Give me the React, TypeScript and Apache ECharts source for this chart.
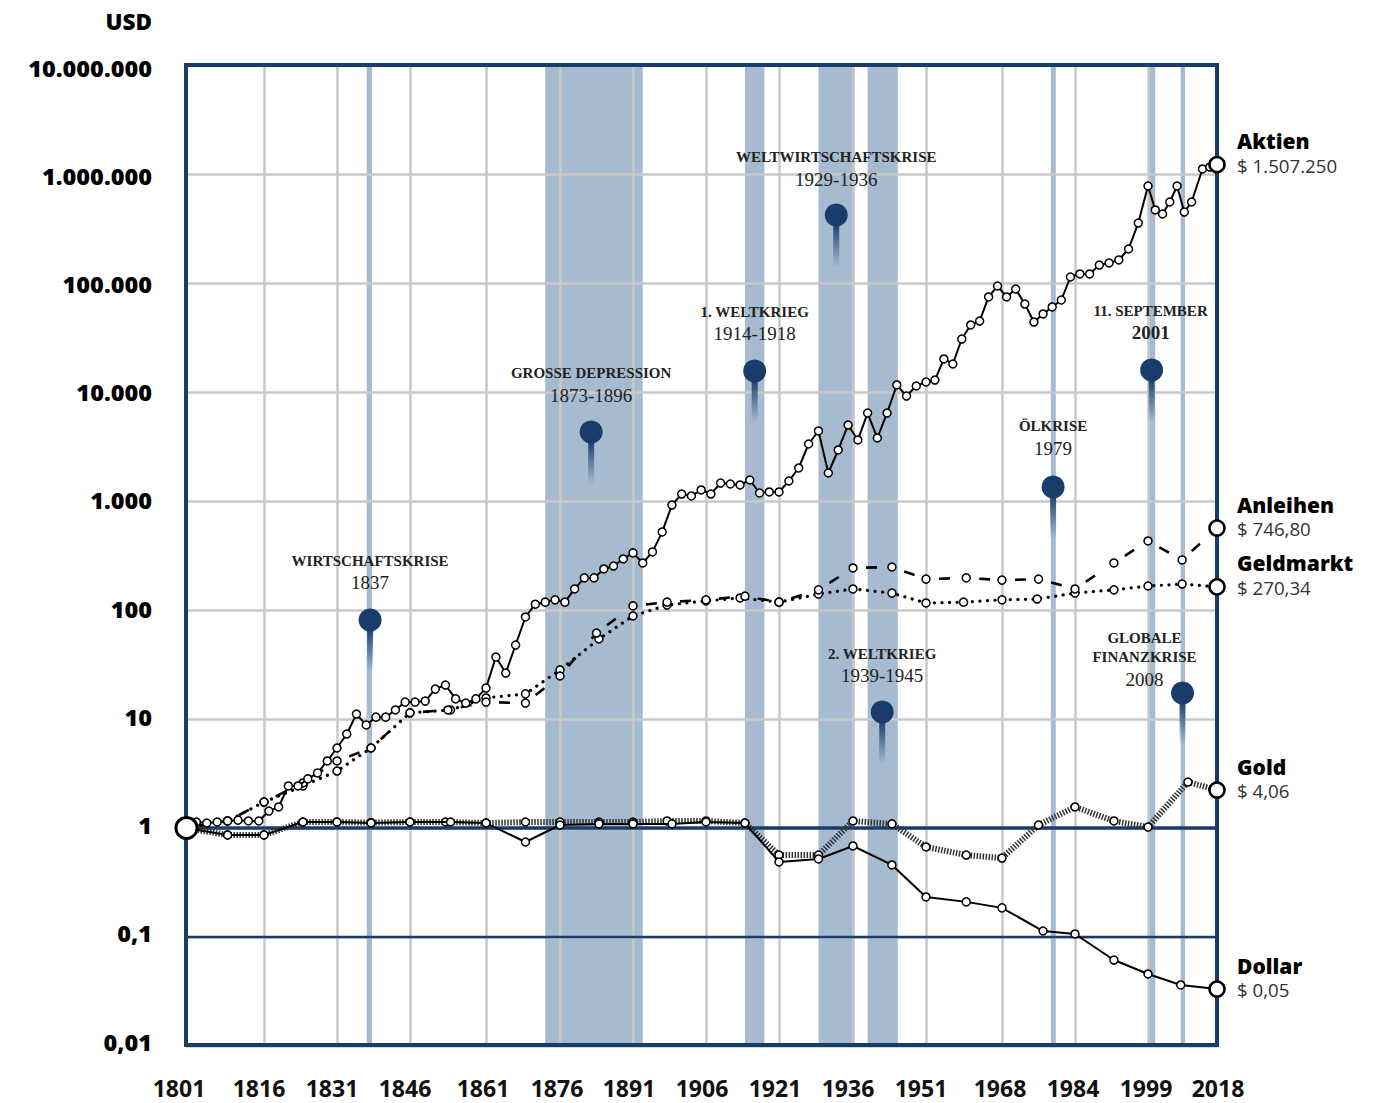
import React, { useEffect, useRef } from "react";
import * as echarts from "echarts";

// Non-uniform time scale of the chart: year -> distance along the axis
const SCALE_YEARS = [1801, 1816, 1831, 1846, 1861, 1876, 1891, 1906, 1921, 1936, 1951, 1968, 1984, 1999, 2018];
const SCALE_DIST = [0, 78, 151, 224, 300, 374, 447, 520, 593, 667, 740, 816, 889, 962, 1031];
const TICK_LABELS = ["1801", "1816", "1831", "1846", "1861", "1876", "1891", "1906", "1921", "1936", "1951", "1968", "1984", "1999", "2018"];
const TICK_LABEL_DIST = [-7, 73, 146, 219, 297, 371, 443, 516, 589, 662, 735, 814, 887, 960, 1032];

const STOCK_YEARS = [1801, 1803, 1805, 1807, 1809, 1811, 1813, 1815, 1817, 1819, 1821, 1823, 1825, 1827, 1829, 1831, 1833, 1835, 1837, 1839, 1841, 1843, 1845, 1847, 1849, 1851, 1853, 1855, 1857, 1859, 1861, 1863, 1865, 1867, 1869, 1871, 1873, 1875, 1877, 1879, 1881, 1883, 1885, 1887, 1889, 1891, 1893, 1895, 1897, 1899, 1901, 1903, 1905, 1907, 1909, 1911, 1913, 1915, 1917, 1919, 1921, 1923, 1925, 1927, 1929, 1931, 1933, 1935, 1937, 1939, 1941, 1943, 1945, 1947, 1949, 1951, 1953, 1955, 1957, 1959, 1961, 1963, 1965, 1967, 1969, 1971, 1973, 1975, 1977, 1979, 1981, 1983, 1985, 1987, 1989, 1991, 1993, 1995, 1997, 1999, 2001, 2003, 2005, 2007, 2009, 2011, 2014, 2016, 2018];
const STOCK_VALUES = [1, 1.135, 1.11, 1.135, 1.16, 1.18, 1.16, 1.16, 1.43, 1.56, 2.43, 2.43, 2.82, 3.2, 4.12, 5.42, 7.28, 11.1, 8.81, 10.4, 10.4, 12.1, 14.3, 14.3, 14.6, 18.8, 20.5, 15.3, 14, 15.3, 19.2, 37, 26.4, 47.7, 86.3, 113, 118, 124, 118, 156, 197, 197, 238, 253, 294, 334, 270, 341, 520, 918, 1159, 1112, 1262, 1159, 1462, 1432, 1403, 1558, 1184, 1210, 1210, 1526, 2009, 3334, 4390, 1807, 2938, 4977, 3631, 6412, 3784, 6412, 11600, 9183, 11350, 12350, 12880, 20090, 18070, 30620, 41210, 44770, 74470, 93840, 74470, 88100, 64120, 43860, 51970, 60260, 69820, 113500, 121000, 121000, 146200, 152600, 162600, 205100, 354900, 776200, 467700, 429500, 553400, 776200, 447700, 553400, 1112000, 1159000, 1220000];

const BOND_YEARS = [1801, 1809, 1816, 1824, 1831, 1838, 1846, 1853.5, 1861, 1869, 1876, 1883.5, 1891, 1898, 1906, 1914, 1921, 1929, 1936, 1944, 1951, 1960, 1968, 1976, 1984, 1992, 1999, 2008.4, 2018];
const BOND_VALUES = [1, 1.16, 1.73, 2.59, 4.12, 5.42, 11.4, 12.1, 14.3, 14, 24.8, 61.5, 109, 118, 124, 134, 118, 153, 243, 248, 192, 197, 188, 192, 156, 270, 430, 288, 565];

const BILL_YEARS = [1801, 1809, 1816, 1824, 1831, 1838, 1846, 1854, 1861, 1869, 1876, 1884, 1891, 1898, 1906, 1913, 1921, 1929, 1936, 1944, 1951, 1959.4, 1968, 1975.7, 1984, 1992, 1999, 2008.4, 2018];
const BILL_VALUES = [1, 1.16, 1.73, 2.43, 3.33, 5.42, 11.4, 12.1, 15.6, 17, 28.2, 54.2, 88.1, 111, 121, 129, 118, 140, 156, 143, 116, 118, 124, 126, 143, 153, 166, 173, 163];

const GOLD_YEARS = [1801, 1809, 1816, 1824, 1831, 1838, 1846, 1853, 1861, 1869, 1876, 1884, 1891, 1898, 1906, 1914, 1921, 1929, 1936, 1944, 1951, 1960, 1968, 1976, 1984, 1992, 1999, 2010, 2018];
const GOLD_VALUES = [1, 0.863, 0.863, 1.135, 1.135, 1.12, 1.135, 1.135, 1.11, 1.135, 1.135, 1.135, 1.135, 1.16, 1.16, 1.11, 0.565, 0.565, 1.16, 1.09, 0.67, 0.565, 0.53, 1.065, 1.56, 1.16, 1.02, 2.64, 2.23];

const DOLLAR_YEARS = [1801, 1809, 1816, 1824, 1831, 1838, 1846, 1854, 1861, 1869, 1876, 1884, 1891, 1899, 1906, 1914, 1921, 1929, 1936, 1944, 1951, 1960, 1968, 1977, 1984, 1992, 1999, 2008, 2018];
const DOLLAR_VALUES = [1, 0.863, 0.863, 1.135, 1.135, 1.11, 1.135, 1.135, 1.11, 0.744, 1.065, 1.09, 1.09, 1.09, 1.135, 1.11, 0.488, 0.52, 0.684, 0.458, 0.233, 0.21, 0.185, 0.1135, 0.1066, 0.0615, 0.0458, 0.0363, 0.0333];

const Y_TICKS = [0.01, 0.1, 1, 10, 100, 1000, 10000, 100000, 1000000, 10000000];
const REFERENCE_LEVELS = [1, 0.1];

const BAND_STARTS = [1837.1, 1873, 1914, 1929, 1939, 1978.7, 1999.3, 2008];
const BAND_ENDS = [1838.2, 1893, 1918, 1936.3, 1945.2, 1979.8, 2001, 2009.2];

const EVENT_YEARS = [1837.8, 1882.4, 1916, 1932.6, 1942, 1979.2, 2000, 2008.5];
const EVENT_LEVELS = [81, 4295, 15590, 420500, 11.6, 1344, 15920, 17.3];
const EVENT_TITLES = [["WIRTSCHAFTSKRISE"], ["GROSSE DEPRESSION"], ["1. WELTKRIEG"], ["WELTWIRTSCHAFTSKRISE"], ["2. WELTKRIEG"], ["ÖLKRISE"], ["11. SEPTEMBER"], ["GLOBALE", "FINANZKRISE"]];
const EVENT_PERIODS = ["1837", "1873-1896", "1914-1918", "1929-1936", "1939-1945", "1979", "2001", "2008"];

const END_NAMES = ["Aktien", "Anleihen", "Geldmarkt", "Gold", "Dollar"];
const END_AMOUNTS = ["$ 1.507.250", "$ 746,80", "$ 270,34", "$ 4,06", "$ 0,05"];

const NAVY = "#1a3c6b";
const GRID_GREY = "#c9c9c9";
const BAND_BLUE = "#a6bbd0";
const SANS = '"Open Sans"';
const SERIF = '"Liberation Serif"';

function toDist(year: number): number {
  for (let i = 1; i < SCALE_YEARS.length; i++) {
    if (year <= SCALE_YEARS[i]) {
      const f = (year - SCALE_YEARS[i - 1]) / (SCALE_YEARS[i] - SCALE_YEARS[i - 1]);
      return SCALE_DIST[i - 1] + f * (SCALE_DIST[i] - SCALE_DIST[i - 1]);
    }
  }
  return SCALE_DIST[SCALE_DIST.length - 1];
}

function pairs(years: number[], values: number[]) {
  return years.map((y, i) => [toDist(y), values[i]]);
}

function formatLevel(v: number): string {
  if (v < 1) return String(Number(v.toPrecision(2))).replace(".", ",");
  return String(Math.round(v)).replace(/\B(?=(\d{3})+$)/g, ".");
}

function lineSeries(name: string, years: number[], values: number[], lineStyle: any, z: number, size = 8) {
  return {
    name,
    type: "line",
    xAxisIndex: 0,
    yAxisIndex: 0,
    clip: false,
    z,
    data: pairs(years, values),
    showSymbol: true,
    showAllSymbol: true,
    symbol: "circle",
    symbolSize: size,
    itemStyle: { color: "#fff", borderColor: "#000", borderWidth: 1.5 },
    lineStyle,
    emphasis: { disabled: true },
  };
}

export default function App() {
  const ref = useRef<HTMLDivElement>(null);
  useEffect(() => {
    const chart = echarts.init(ref.current!, undefined, { renderer: "svg" });
    const stemGradient = new echarts.graphic.LinearGradient(0, 0, 0, 1, [
      { offset: 0, color: NAVY },
      { offset: 1, color: "rgba(26,60,107,0)" },
    ]);
    const titleGapX = [0, 0, 0, 0, 0, 0, -1, -38];
    const periodGapY = [37, 37, 37, 36, 36, 39, 37, 14];
    const titleGapY = [[59], [59], [59], [58], [58], [61], [59], [55, 36]];
    const endEndDist = 1031;
    const option: any = {
      animation: false,
      backgroundColor: "#fff",
      grid: [
        { left: 186, top: 65, width: 1031, height: 981, show: false },
        { left: 160, top: 67.5, width: 1090, height: 974, show: false },
      ],
      xAxis: [
        {
          type: "value", gridIndex: 0, min: 0, max: 1031,
          axisLine: { show: false },
          axisLabel: { show: false },
          axisTick: { show: false, customValues: SCALE_DIST },
          splitLine: { show: true, lineStyle: { color: GRID_GREY, width: 2.5 } },
        },
        {
          type: "value", gridIndex: 1, min: -26, max: 1064,
          axisLine: { show: false },
          axisTick: { show: false },
          splitLine: { show: false },
          axisLabel: {
            show: true, margin: 35.2, customValues: TICK_LABEL_DIST,
            fontFamily: SANS, fontWeight: 700, fontSize: 23, color: "#111",
            formatter: (v: number) => TICK_LABELS[TICK_LABEL_DIST.indexOf(v)] ?? "",
          },
        },
      ],
      yAxis: [
        {
          type: "log", logBase: 10, gridIndex: 0, min: 0.01, max: 10000000,
          axisLine: { show: false },
          axisLabel: { show: false },
          axisTick: { show: false, customValues: Y_TICKS },
          splitLine: { show: true, lineStyle: { color: GRID_GREY, width: 2.5 } },
        },
        {
          type: "log", logBase: 10, gridIndex: 1, min: 0.01, max: 10000000,
          axisLine: { show: false },
          axisTick: { show: false },
          splitLine: { show: false },
          axisLabel: {
            show: true, margin: 8, customValues: Y_TICKS,
            fontFamily: SANS, fontWeight: 800, fontSize: 23.5, color: "#000",
            formatter: (v: number) => formatLevel(v),
          },
        },
      ],
      graphic: [
        { type: "text", x: 152, y: 21, style: { text: "USD", textAlign: "right", textVerticalAlign: "middle", font: `800 22.5px ${SANS}`, fill: "#000" } },
      ],
      series: [
        {
          type: "custom", name: "Krisen", xAxisIndex: 0, yAxisIndex: 0, z: -1, silent: true,
          data: BAND_STARTS.map((s, i) => [toDist(s), toDist(BAND_ENDS[i])]),
          encode: { x: [0, 1] },
          renderItem: (params: any, api: any) => {
            const a = api.coord([api.value(0), 1])[0];
            const b = api.coord([api.value(1), 1])[0];
            const cs = params.coordSys;
            return { type: "rect", shape: { x: a, y: cs.y, width: b - a, height: cs.height }, style: { fill: BAND_BLUE } };
          },
        },
        {
          type: "custom", name: "Referenz", xAxisIndex: 0, yAxisIndex: 0, z: 1, silent: true,
          data: REFERENCE_LEVELS.map((v) => [0, v]),
          encode: { x: 0, y: 1 },
          renderItem: (params: any, api: any) => {
            const y = api.coord([0, api.value(1)])[1];
            const cs = params.coordSys;
            return { type: "line", shape: { x1: cs.x, y1: y, x2: cs.x + cs.width, y2: y }, style: { stroke: NAVY, lineWidth: api.value(1) === 1 ? 3.5 : 2.5 } };
          },
        },
        {
          type: "custom", name: "Rahmen", xAxisIndex: 0, yAxisIndex: 0, z: 1, silent: true,
          data: [[0, 1]],
          encode: { x: 0, y: 1 },
          renderItem: (params: any) => {
            const cs = params.coordSys;
            return { type: "rect", shape: { x: cs.x, y: cs.y, width: cs.width, height: cs.height - 1 }, style: { fill: "none", stroke: NAVY, lineWidth: 4 } };
          },
        },
        lineSeries("Gold", GOLD_YEARS, GOLD_VALUES, { color: "#333", width: 6, type: [1.5, 1.5] }, 3),
        lineSeries("Dollar", DOLLAR_YEARS, DOLLAR_VALUES, { color: "#000", width: 2 }, 4),
        lineSeries("Geldmarkt", BILL_YEARS, BILL_VALUES, { color: "#000", width: 3.2, type: [0.1, 7.5], cap: "round" }, 5),
        {
          // Each bond segment restarts its dash pattern, as in the reference
          type: "custom", name: "Anleihen-Striche", xAxisIndex: 0, yAxisIndex: 0, z: 5, silent: true,
          data: BOND_YEARS.slice(1).map((y, i) => [toDist(BOND_YEARS[i]), BOND_VALUES[i], toDist(y), BOND_VALUES[i + 1]]),
          encode: { x: [0, 2], y: [1, 3] },
          clip: false,
          renderItem: (_p: any, api: any) => {
            const a = api.coord([api.value(0), api.value(1)]);
            const b = api.coord([api.value(2), api.value(3)]);
            return {
              type: "line",
              shape: { x1: a[0], y1: a[1], x2: b[0], y2: b[1] },
              style: { stroke: "#000", lineWidth: 2.6, lineDash: [11, 25], lineDashOffset: 23 },
            };
          },
        },
        lineSeries("Anleihen", BOND_YEARS, BOND_VALUES, { opacity: 0, width: 0 }, 6),
        lineSeries("Aktien", STOCK_YEARS, STOCK_VALUES, { color: "#000", width: 2 }, 7),
        {
          type: "custom", name: "Ereignisse", xAxisIndex: 0, yAxisIndex: 0, z: 8, silent: true,
          data: EVENT_YEARS.map((y, i) => [toDist(y), EVENT_LEVELS[i], i]),
          encode: { x: 0, y: 1 },
          renderItem: (_p: any, api: any) => {
            const i = api.value(2);
            const [x, y] = api.coord([api.value(0), api.value(1)]);
            const children: any[] = [
              { type: "rect", shape: { x: x - 3, y: y + 8, width: 6, height: 44 }, style: { fill: stemGradient } },
              { type: "circle", shape: { cx: x, cy: y, r: 11.5 }, style: { fill: NAVY } },
            ];
            EVENT_TITLES[i].forEach((t, k) => {
              children.push({
                type: "text",
                style: { text: t, x: x + titleGapX[i], y: y - titleGapY[i][k], textAlign: "center", textVerticalAlign: "middle", font: `700 15px ${SERIF}`, fill: "#222" },
              });
            });
            children.push({
              type: "text",
              style: { text: EVENT_PERIODS[i], x: x + titleGapX[i], y: y - periodGapY[i], textAlign: "center", textVerticalAlign: "middle", font: `${i === 6 ? 700 : 400} 19px ${SERIF}`, fill: "#222" },
            });
            return { type: "group", children };
          },
        },
        {
          type: "custom", name: "Enden", xAxisIndex: 0, yAxisIndex: 0, z: 9, silent: true,
          data: [
            [endEndDist, STOCK_VALUES[STOCK_VALUES.length - 1], 0],
            [endEndDist, BOND_VALUES[BOND_VALUES.length - 1], 1],
            [endEndDist, BILL_VALUES[BILL_VALUES.length - 1], 2],
            [endEndDist, GOLD_VALUES[GOLD_VALUES.length - 1], 3],
            [endEndDist, DOLLAR_VALUES[DOLLAR_VALUES.length - 1], 4],
          ],
          encode: { x: 0, y: 1 },
          renderItem: (_p: any, api: any) => {
            const i = api.value(2);
            const [x, y] = api.coord([api.value(0), api.value(1)]);
            return {
              type: "group",
              children: [
                { type: "circle", shape: { cx: x, cy: y, r: 7.5 }, style: { fill: "#fff", stroke: "#000", lineWidth: 2.6 } },
                { type: "text", style: { text: END_NAMES[i], x: x + 20, y: y - 23.5, textAlign: "left", textVerticalAlign: "middle", font: `800 21px ${SANS}`, fill: "#000" } },
                { type: "text", style: { text: END_AMOUNTS[i], x: x + 20, y: y + 0.5, textAlign: "left", textVerticalAlign: "middle", font: `400 18.7px ${SANS}`, fill: "#333" } },
              ],
            };
          },
        },
        {
          type: "custom", name: "Start", xAxisIndex: 0, yAxisIndex: 0, z: 9, silent: true,
          data: [[0, 1]],
          encode: { x: 0, y: 1 },
          renderItem: (_p: any, api: any) => {
            const [x, y] = api.coord([api.value(0), api.value(1)]);
            return { type: "circle", shape: { cx: x + 0.5, cy: y, r: 10.5 }, style: { fill: "#fff", stroke: "#000", lineWidth: 3 } };
          },
        },
      ],
    };
    chart.setOption(option);
    return () => chart.dispose();
  }, []);
  return <div ref={ref} style={{ position: "absolute", left: 0, top: 0, width: 1389, height: 1103 }} />;
}
